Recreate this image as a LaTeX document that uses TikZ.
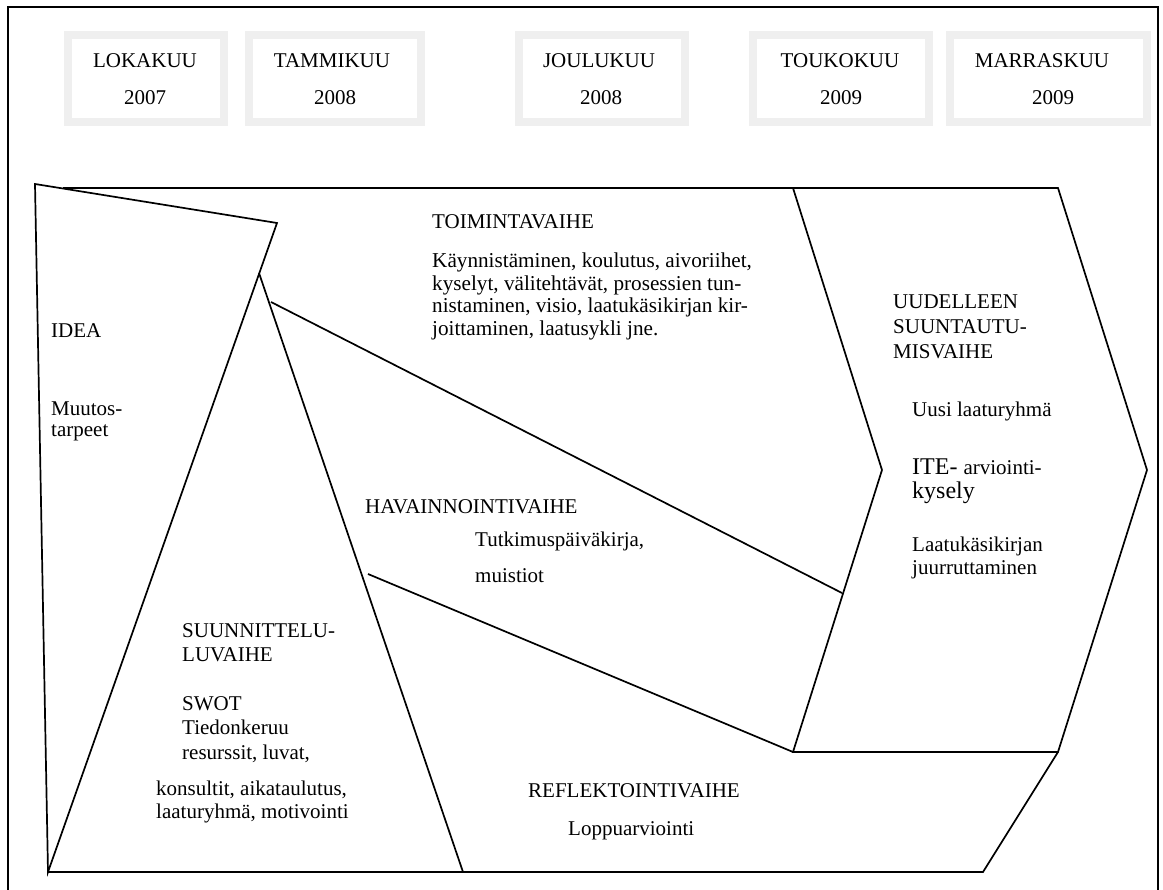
\documentclass[tikz,border=0pt]{standalone}
\usepackage{fontspec}
\setmainfont{Liberation Serif}
\definecolor{framegray}{HTML}{EFEFEF}
\begin{document}
% multi-line text nodes are anchored on the baseline of their last line
\begin{tikzpicture}[x=1pt,y=-1pt,
  edge/.style={line width=1.7pt, line join=miter},
  monthframe/.style={draw=framegray, line width=8pt, minimum width=156pt, minimum height=87pt, inner sep=0pt},
  lbl/.style={anchor=base, inner sep=0pt, font=\fontsize{21}{24}\selectfont},
  txt/.style={anchor=base west, inner sep=0pt, align=left, font=\fontsize{21}{24}\selectfont}]
\useasboundingbox (0,0) rectangle (1163,890);

% outer frame, running off the bottom of the page
\draw[line width=2.2pt] (8,900) -- (8,7) -- (1158,7) -- (1158,900);

% month boxes
\node[monthframe, minimum width=156pt] (b1) at (146,78.5) {};
\node[monthframe, minimum width=172pt] (b2) at (335,78.5) {};
\node[monthframe, minimum width=166pt] (b3) at (602,78.5) {};
\node[monthframe, minimum width=176pt] (b4) at (841,78.5) {};
\node[monthframe, minimum width=197pt] (b5) at (1048.5,78.5) {};
\node[lbl] (b1m) at (145,68) {LOKAKUU};   \node[lbl] (b1y) at (145,105) {2007};
\node[lbl] (b2m) at (332,68) {TAMMIKUU};  \node[lbl] (b2y) at (335,105) {2008};
\node[lbl] (b3m) at (599,68) {JOULUKUU};  \node[lbl] (b3y) at (601,105) {2008};
\node[lbl] (b4m) at (840,68) {TOUKOKUU};  \node[lbl] (b4y) at (841,105) {2009};
\node[lbl] (b5m) at (1042,68) {MARRASKUU}; \node[lbl] (b5y) at (1053,105) {2009};

% corner points of the phase shapes
\coordinate (ia) at (35,184);
\coordinate (ib) at (277,223);
\coordinate (ic) at (48,872);
\coordinate (sp) at (259,273);
\coordinate (sr) at (463,872);
\coordinate (t0) at (63,188);
\coordinate (u1) at (793,188);
\coordinate (u2) at (1058,188);
\coordinate (u3) at (1147,470);
\coordinate (u4) at (1058,752);
\coordinate (u5) at (793,752);
\coordinate (u6) at (882,470);
\coordinate (h1) at (271,302);
\coordinate (h2) at (842,593);
\coordinate (r1) at (368,574);
\coordinate (r2) at (983,872);

% phase shapes
\draw[edge] (t0) -- (u1);
\draw[edge] (h1) -- (h2);
\draw[edge] (r1) -- (u5);
\draw[edge] (u4) -- (r2) -- (sr);
\draw[edge] (u1) -- (u2) -- (u3) -- (u4) -- (u5) -- (u6) -- cycle;
\draw[edge] (sp) -- (sr) -- (ic);
\draw[edge] (ia) -- (ib) -- (ic) -- cycle;

% IDEA
\node[txt] (idea) at (51,338) {IDEA};
\node[txt, font=\fontsize{21}{21}\selectfont] (ideab) at (51,437) {Muutos-\\tarpeet};

% TOIMINTAVAIHE
\node[txt] (toim) at (432,229) {TOIMINTAVAIHE};
\node[txt, font=\fontsize{21.2}{22.4}\selectfont] (toimb) at (432,335.2)
  {Käynnistäminen, koulutus, aivoriihet,\\kyselyt, välitehtävät, prosessien tun-\\nistaminen, visio, laatukäsikirjan kir-\\joittaminen, laatusykli jne.};

% HAVAINNOINTIVAIHE
\node[txt] (hav) at (365,514) {HAVAINNOINTIVAIHE};
\node[txt] (havb) at (475,547) {Tutkimuspäiväkirja,};
\node[txt] (havc) at (475,583) {muistiot};

% SUUNNITTELULUVAIHE
\node[txt] (suun) at (182,661) {SUUNNITTELU-\\LUVAIHE};
\node[txt, font=\fontsize{21}{24.5}\selectfont] (suunb) at (182,759) {SWOT\\Tiedonkeruu\\resurssit, luvat,};
\node[txt, font=\fontsize{21}{23}\selectfont] (suunc) at (156,818) {konsultit, aikataulutus,\\laaturyhmä, motivointi};

% REFLEKTOINTIVAIHE
\node[txt] (refl) at (528,797) {REFLEKTOINTIVAIHE};
\node[txt] (reflb) at (568,835) {Loppuarviointi};

% UUDELLEENSUUNTAUTUMISVAIHE
\node[txt, font=\fontsize{21}{25}\selectfont] (uud) at (893,359) {UUDELLEEN\\SUUNTAUTU-\\MISVAIHE};
\node[txt] (uudb) at (912,417) {Uusi laaturyhmä};
\node[txt, font=\fontsize{24}{24}\selectfont] (uudc) at (912,499) {ITE- {\fontsize{21}{24}\selectfont arviointi-}\\kysely};
\node[txt, font=\fontsize{21}{23}\selectfont] (uudd) at (912,575) {Laatukäsikirjan\\juurruttaminen};
\end{tikzpicture}
\end{document}
